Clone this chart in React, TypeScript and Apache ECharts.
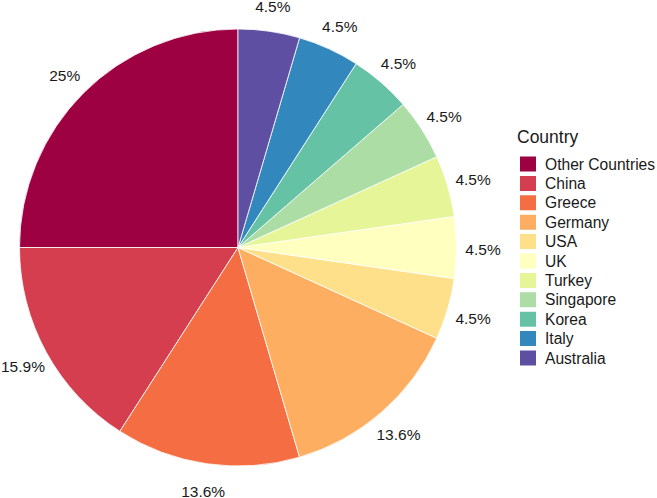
import React, { useEffect, useRef } from "react";
import * as echarts from "echarts";

const countries = [
  "Other Countries",
  "China",
  "Greece",
  "Germany",
  "USA",
  "UK",
  "Turkey",
  "Singapore",
  "Korea",
  "Italy",
  "Australia",
];
const counts = [11, 7, 6, 6, 2, 2, 2, 2, 2, 2, 2];
const percentLabels = ["25%", "15.9%", "13.6%", "13.6%", "4.5%", "4.5%", "4.5%", "4.5%", "4.5%", "4.5%", "4.5%"];
const colors = [
  "#9E0142",
  "#D53E4F",
  "#F46D43",
  "#FDAE61",
  "#FEE08B",
  "#FFFFBF",
  "#E6F598",
  "#ABDDA4",
  "#66C2A5",
  "#3288BD",
  "#5E4FA2",
];
const legendTitle = "Country";

const FONT = "'Liberation Sans', Arial, sans-serif";

export default function App() {
  const ref = useRef<HTMLDivElement>(null);
  useEffect(() => {
    document.body.style.margin = "0";
    if (!ref.current) return;
    const chart = echarts.init(ref.current, undefined, { renderer: "svg" });
    const center = [238, 247.5];
    chart.setOption({
      animation: false,
      backgroundColor: "#ffffff",
      color: colors,
      graphic: [
        {
          type: "text",
          x: 517,
          y: 137,
          style: {
            text: legendTitle,
            fontFamily: FONT,
            fontSize: 17.5,
            fill: "#1a1a1a",
            textVerticalAlign: "middle",
            textAlign: "left",
          },
        },
      ],
      legend: {
        orient: "vertical",
        left: 513,
        top: 149.5,
        icon: "rect",
        itemWidth: 18,
        itemHeight: 17,
        itemGap: 0.4,
        data: countries,
        selectedMode: false,
        textStyle: {
          fontFamily: FONT,
          fontSize: 15.6,
          lineHeight: 17,
          color: "#1a1a1a",
          padding: [0, 0, 0, 3],
        },
      },
      series: [
        {
          type: "pie",
          center,
          radius: [0, 218.5],
          clockwise: false,
          startAngle: 90,
          silent: true,
          label: { show: false },
          labelLine: { show: false },
          itemStyle: { borderColor: "#ffffff", borderWidth: 0.8 },
          emphasis: { disabled: true },
          data: countries.map((c, i) => ({ name: c, value: counts[i] })),
        },
        {
          type: "pie",
          center: [238, 249],
          radius: [234, 250],
          clockwise: false,
          startAngle: 90,
          silent: true,
          legendHoverLink: false,
          itemStyle: { color: "rgba(0,0,0,0)" },
          label: {
            show: true,
            position: "inside",
            formatter: (p: any) => percentLabels[p.dataIndex],
            fontFamily: FONT,
            fontSize: 15.5,
            color: "#1a1a1a",
          },
          labelLine: { show: false },
          emphasis: { disabled: true },
          data: countries.map((c, i) => ({ name: "lbl_" + c, value: counts[i] })),
        },
      ],
    });
    return () => chart.dispose();
  }, []);
  return <div ref={ref} style={{ width: 657, height: 498 }} />;
}
